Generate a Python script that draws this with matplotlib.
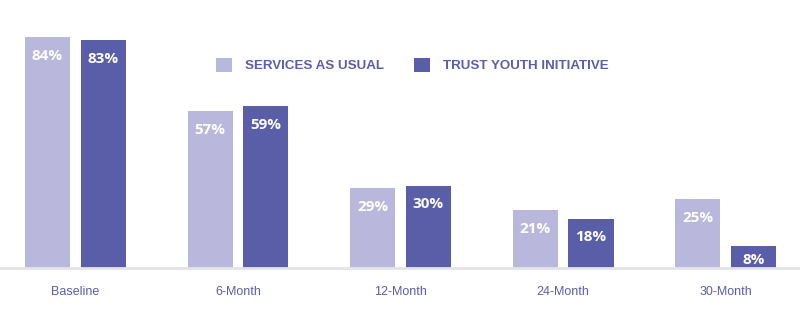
import matplotlib.pyplot as plt
import numpy as np

# ── data ──────────────────────────────────────────────────────────────────────
categories = ["Baseline", "6-Month", "12-Month", "24-Month", "30-Month"]
services_as_usual = [84, 57, 29, 21, 25]
trust_youth = [83, 59, 30, 18, 8]
series_names = ["SERVICES AS USUAL", "TRUST YOUTH INITIATIVE"]

LIGHT = "#b9b7dc"
DARK = "#5a5ea9"
TEXT = "#5a5ea8"
AXIS = "#e4e4e8"

fig = plt.figure(figsize=(8, 3.25), dpi=100)
ax = fig.add_axes([0, 57 / 325, 1, 247.5 / 325])

x = np.arange(len(categories))
w = 0.277
off = 0.172

b1 = ax.bar(x - off, services_as_usual, w, color=LIGHT, label=series_names[0], zorder=2)
b2 = ax.bar(x + off, trust_youth, w, color=DARK, label=series_names[1], zorder=2)

# value labels sit just under the bar top, but never below the axis
for bars, vals in ((b1, services_as_usual), (b2, trust_youth)):
    for rect, v in zip(bars, vals):
        ax.text(rect.get_x() + rect.get_width() / 2, max(v - 6.9, 3.0), f"{v}%",
                ha="center", va="center", color="white", fontsize=11,
                fontweight="bold", family=["Open Sans", "DejaVu Sans"], zorder=3)

ax.set_xlim(-0.4646, 4.458)
ax.set_ylim(0, 90)
ax.set_xticks(x)
ax.set_xticklabels(categories, family=["Liberation Sans Narrow", "Liberation Sans"],
                   fontsize=9, color=TEXT)
ax.tick_params(axis="x", length=0, pad=13)
ax.set_yticks([])
for s in ("top", "right", "left"):
    ax.spines[s].set_visible(False)
ax.spines["bottom"].set_color(AXIS)
ax.spines["bottom"].set_linewidth(2)

leg = ax.legend(loc="center left", bbox_to_anchor=(0.255, 0.82), ncol=2,
                frameon=False, handlelength=1.2, handleheight=1.2,
                handletextpad=0.95, columnspacing=2.3,
                prop={"family": ["Liberation Sans", "DejaVu Sans"],
                      "weight": "bold", "size": 9.6})
for t in leg.get_texts():
    t.set_color(TEXT)

fig.savefig("out.png", dpi=100, facecolor="white")
